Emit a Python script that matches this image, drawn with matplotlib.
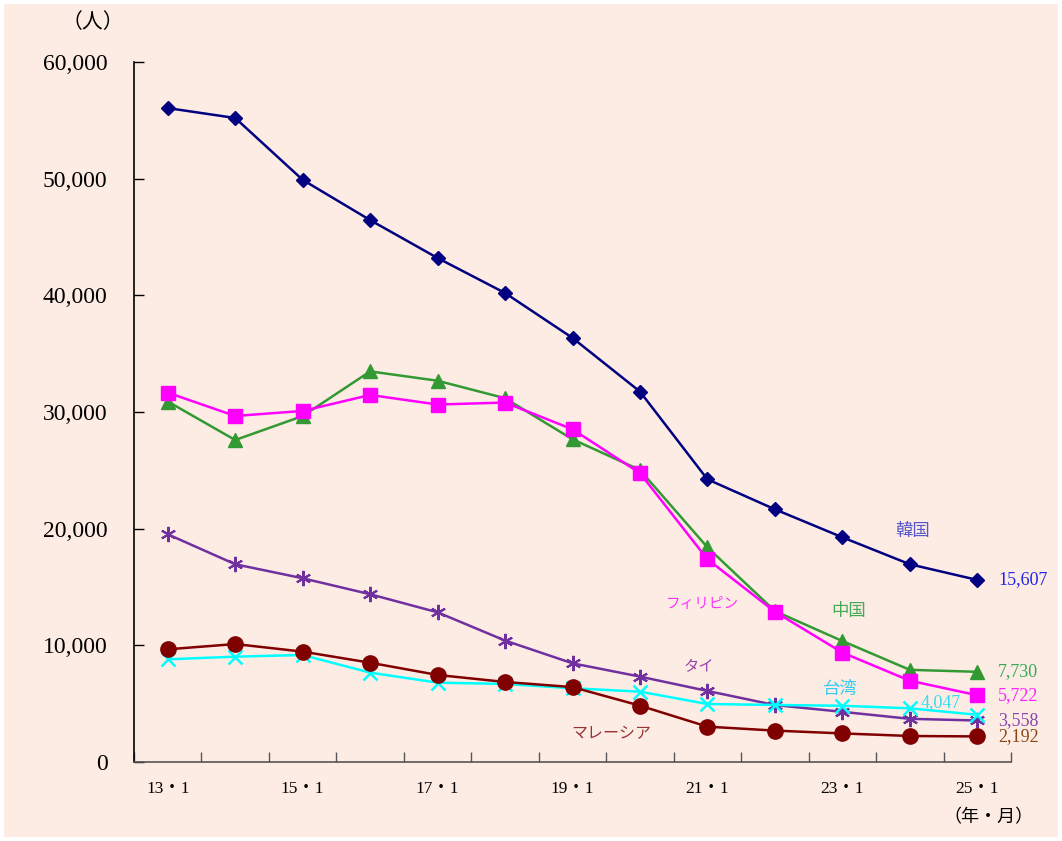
import matplotlib
matplotlib.use("Agg")
import matplotlib.pyplot as plt
from matplotlib.patches import Rectangle

# 年・月 categories (x axis), labels shown only on odd years
periods = ["13・1", "14・1", "15・1", "16・1", "17・1", "18・1", "19・1",
           "20・1", "21・1", "22・1", "23・1", "24・1", "25・1"]
shown_labels = ["13・1", "", "15・1", "", "17・1", "", "19・1",
                "", "21・1", "", "23・1", "", "25・1"]

korea =       [56050, 55200, 49900, 46450, 43200, 40200, 36350,
               31750, 24230, 21660, 19260, 16950, 15607]
china =       [30900, 27600, 29650, 33480, 32680, 31180, 27660,
               25030, 18400, 12940, 10370, 7900, 7730]
philippines = [31660, 29660, 30090, 31460, 30640, 30810, 28520,
               24760, 17380, 12880, 9380, 6970, 5722]
thailand =    [19520, 16950, 15750, 14380, 12830, 10410, 8460,
               7320, 6090, 4880, 4300, 3700, 3558]
taiwan =      [8800, 9030, 9170, 7660, 6800, 6690, 6320,
               6030, 4970, 4890, 4820, 4600, 4047]
malaysia =    [9660, 10110, 9460, 8510, 7460, 6860, 6420,
               4830, 3030, 2690, 2450, 2230, 2192]

yticks = [0, 10000, 20000, 30000, 40000, 50000, 60000]
ytick_labels = ["0", "10,000", "20,000", "30,000", "40,000", "50,000", "60,000"]

bg = "#FDECE4"
jp = ["Noto Sans CJK JP", "DejaVu Sans"]
num_font = ["Liberation Serif", "Noto Sans CJK JP"]

fig = plt.figure(figsize=(10.62, 8.41), dpi=100, facecolor="white")
fig.patches.append(Rectangle((4 / 1062, 4 / 841), 1 - 8 / 1062, 1 - 8 / 841,
                             transform=fig.transFigure, facecolor=bg,
                             edgecolor="none", zorder=-10))
ax = fig.add_axes([134 / 1062, 1 - 762 / 841, (1011 - 134) / 1062, 700 / 841])
ax.set_facecolor("none")

x = list(range(len(periods)))
series = [
    (korea, "#000080", dict(marker="D", markersize=7.5)),
    (thailand, "#7030A0", dict(marker=(6, 2, 0), markersize=11, markeredgewidth=1.5)),
    (taiwan, "#00FFFF", dict(marker="x", markersize=10, markeredgewidth=1.8)),
    (malaysia, "#800000", dict(marker="o", markersize=11)),
    (china, "#339933", dict(marker="^", markersize=10)),
    (philippines, "#FF00FF", dict(marker="s", markersize=10)),
]
for vals, color, mk in series:
    ax.plot(x, vals, color=color, linewidth=1.8, markerfacecolor=color,
            markeredgecolor=color, **mk)

ax.set_xlim(-0.5, len(periods) - 0.5)
ax.set_ylim(0, 60000)

ax.set_yticks(yticks)
ax.set_yticklabels(ytick_labels, family=num_font, fontsize=17)
ax.tick_params(axis="y", direction="in", length=7, width=1, pad=19, colors="black")

# category boundaries carry the tick marks; labels sit at category centres
ax.set_xticks([i - 0.5 for i in range(len(periods) + 1)])
ax.set_xticklabels([])
ax.set_xticks(x, minor=True)
ax.set_xticklabels(shown_labels, minor=True, family=num_font, fontsize=12.5)
ax.tick_params(axis="x", which="major", direction="in", length=7, width=1,
               colors="#555555")
ax.tick_params(axis="x", which="minor", length=0, pad=14, labelcolor="black")

for side in ("top", "right"):
    ax.spines[side].set_visible(False)
ax.spines["left"].set_color("black")
ax.spines["bottom"].set_color("#555555")
ax.spines["left"].set_linewidth(1.2)
ax.spines["bottom"].set_linewidth(1.2)

# unit captions
fig.text(93 / 1062, 1 - 22 / 841, "（人）", family=jp, fontsize=15,
         ha="center", va="center")
fig.text(988 / 1062, 1 - 817 / 841, "（年・月）", family=jp, fontsize=13,
         ha="center", va="center")

# series names
names = [
    ("韓国", 11.04, 19800, "#5555CC", 12.5),
    ("中国", 10.09, 12940, "#44AA55", 12.5),
    ("フィリピン", 7.93, 13540, "#FF33FF", 10.5),
    ("タイ", 7.87, 8140, "#9944AA", 11),
    ("台湾", 9.97, 6260, "#33CCEE", 12.5),
    ("マレーシア", 6.58, 2400, "#993333", 11.5),
]
for txt, xp, yp, c, fs in names:
    ax.text(xp, yp, txt, family=jp, fontsize=fs, color=c, ha="center", va="center")

# final values
last = len(periods) - 1
end_labels = [
    (korea[-1], 15607, "#2222EE"),
    (china[-1], 7730, "#33AA55"),
    (philippines[-1], 5722, "#FF22FF"),
    (thailand[-1], 3558, "#8844AA"),
    (malaysia[-1], 2192, "#8B4513"),
]
for v, yp, c in end_labels:
    ax.annotate(f"{v:,}", xy=(last, yp), xytext=(15, 0),
                textcoords="offset points", family=num_font, fontsize=13,
                color=c, ha="left", va="center", annotation_clip=False)
ax.annotate(f"{taiwan[-1]:,}", xy=(last, taiwan[-1]), xytext=(-12, 9),
            textcoords="offset points", family=num_font, fontsize=13,
            color="#33DDEE", ha="right", va="center")

fig.savefig("out.png", dpi=100, facecolor="white")
